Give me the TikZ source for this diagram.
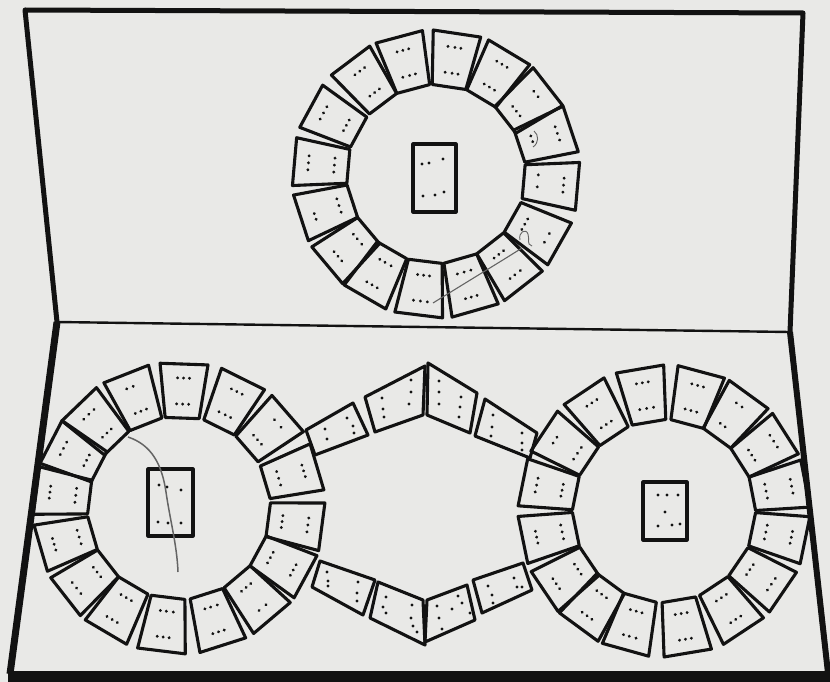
\documentclass[tikz,border=0pt]{standalone}
\definecolor{paper}{RGB}{233,233,231}
\definecolor{ink}{RGB}{18,18,18}
\definecolor{pencil}{RGB}{100,100,100}
\tikzset{
  cardline/.style={draw=ink, line width=3.1pt, line join=round},
  frameline/.style={draw=ink, line width=5pt, line cap=round, line join=round},
  foldline/.style={draw=ink, line width=2.4pt},
  pencilline/.style={draw=pencil, line width=1.5pt},
}
% ring card: ring centre (#1,#2), radius #3, angle #4 (screen, clockwise), inner-row pips #5, outer-row pips #6
\newcommand\rcard[6]{%
  \begin{scope}[shift={(#1,#2)},shift={(#4:#3)},rotate=-#4]
    \draw[cardline] (-27,-17) -- (27,-24) -- (27,24) -- (-27,17) -- cycle;
    \foreach \v in {#5} {\fill[ink] (-13,\v) circle (1.6pt);}
    \foreach \v in {#6} {\fill[ink] (13,\v) circle (1.6pt);}
  \end{scope}}
\newcommand\pips[1]{\foreach \p in {#1} {\fill[ink] (\p) circle (1.6pt);}}
\begin{document}
\begin{tikzpicture}[x=1pt,y=-1pt]
\useasboundingbox (0,0) rectangle (830,682);
\fill[paper] (0,0) rectangle (830,682);

% ---------- folder frame ----------
\coordinate (tl) at (25,10);
\coordinate (tr) at (803,13);
\coordinate (fl) at (57,322);
\coordinate (fr) at (790,332);
\coordinate (bl) at (10,674);
\coordinate (br) at (829,682);
\draw[frameline] (fl) -- (tl) -- (tr) -- (fr);
\draw[foldline] (fl) -- (fr);
\draw[draw=ink, line width=7pt] (fl) -- (bl);
\draw[draw=ink, line width=6pt] (fr) -- (br);
\fill[ink] (8,671) rectangle (830,682);

% ---------- top ring (centre 436,174) ----------
\rcard{436}{174}{115}{255}{-7,0,6}{-6,0,6}
\rcard{436}{174}{115}{278.5}{-6,1,7}{-7,0,6}
\rcard{436}{174}{115}{301}{-5,1,7}{-6,0,6}
\rcard{436}{174}{115}{322}{-6,0,6}{-5,2}
\rcard{436}{174}{115}{341.5}{-6,0}{-7,0,7}
\rcard{436}{174}{115}{365}{-8,4}{-7,0,7}
\rcard{436}{174}{115}{389.5}{-6,0,6}{-4,6}
\rcard{436}{174}{115}{412}{-6,0,6}{-7,0,6}
\rcard{436}{174}{115}{434}{-7,0,7}{-6,0,6}
\rcard{436}{174}{115}{457}{-6,0,6}{-7,0,7}
\rcard{436}{174}{115}{480}{-7,0,6}{-6,0,6}
\rcard{436}{174}{115}{500}{-6,1,7}{-6,0,6}
\rcard{436}{174}{115}{522}{-7,0,7}{-6,0}
\rcard{436}{174}{115}{545}{-7,0,7}{-7,0,7}
\rcard{436}{174}{115}{568.5}{-6,0,6}{-7,0,7}
\rcard{436}{174}{115}{593}{-6,0,6}{-5,1,7}
\draw[cardline] (413,144) rectangle (456,212);
\pips{{422,164},{429,163},{443,159},{423,196},{435,195},{444,192}}
\draw[pencilline, line width=1.1pt] (433,303) .. controls (470,280) and (500,262) .. (522,248);
\draw[pencilline, line width=0.9pt] (520,240) .. controls (518,232) and (526,228) .. (528,234) .. controls (530,240) and (526,244) .. (532,246);
\draw[pencilline, line width=0.9pt] (534,131) .. controls (539,135) and (539,143) .. (533,147);

% ---------- lower left ring (centre 179,508) ----------
\rcard{179}{508}{117}{248.5}{-6,0,6}{-5,2}
\rcard{179}{508}{117}{272}{-6,0,6}{-6,0,6}
\rcard{179}{508}{117}{296.4}{-7,0,6}{-6,0,6}
\rcard{179}{508}{117}{319}{-6,0,6}{-4,6}
\rcard{179}{508}{117}{343.4}{-7,0,7}{-6,0,6}
\rcard{179}{508}{117}{367.5}{-6,0,6}{-7,0,7}
\rcard{179}{508}{117}{388.5}{-6,0,6}{-6,0,6}
\rcard{179}{508}{117}{409.8}{-6,0,6}{-4,5}
\rcard{179}{508}{117}{432.3}{-7,0,6}{-6,0,6}
\rcard{179}{508}{117}{457}{-7,0,6}{-6,0,6}
\rcard{179}{508}{117}{480.5}{-6,0,6}{-5,1,7}
\rcard{179}{508}{117}{502}{-6,0,6}{-7,0,7}
\rcard{179}{508}{117}{523.8}{-7,0,7}{-6,0,6}
\rcard{179}{508}{117}{547}{-7,0,7}{-6,0,6}
\rcard{179}{508}{117}{567.3}{-6,0,6}{-7,0,7}
\rcard{179}{508}{117}{586.1}{-6,0,6}{-7,0,7}
\draw[cardline] (148,469) rectangle (193,536);
\pips{{159,485},{167,487},{181,490},{158,522},{168,523},{181,523}}
\draw[pencilline] (128,437) .. controls (152,445) and (162,465) .. (166,492) .. controls (170,520) and (177,545) .. (178,572);

% ---------- lower right ring (centre 664,511) ----------
\rcard{664}{511}{117}{260.4}{-7,0,7}{-6,0,6}
\rcard{664}{511}{117}{285}{-6,0,6}{-6,0,6}
\rcard{664}{511}{117}{306}{-6,0}{-5,2}
\rcard{664}{511}{117}{327.5}{-6,0,6}{-7,0,7}
\rcard{664}{511}{117}{349}{-7,0,7}{-7,0,7}
\rcard{664}{511}{117}{371.7}{-7,0,7}{-6,0,6}
\rcard{664}{511}{117}{394.3}{-6,0,6}{-7,0,7}
\rcard{664}{511}{117}{416.5}{-6,0,6}{-6,0,6}
\rcard{664}{511}{117}{440.5}{-6,0,6}{-6,0,6}
\rcard{664}{511}{117}{465.5}{-6,0,6}{-7,0,6}
\rcard{664}{511}{117}{486.3}{-5,1,7}{-6,0,6}
\rcard{664}{511}{117}{506}{-6,0,6}{-6,0,6}
\rcard{664}{511}{117}{528.4}{-7,0,7}{-6,0,6}
\rcard{664}{511}{117}{551.5}{-6,0,6}{-7,0,7}
\rcard{664}{511}{117}{573.7}{-7,0,7}{-5,2}
\rcard{664}{511}{117}{596.3}{-6,0,6}{-6,0,6}
\draw[cardline] (643,482) rectangle (687,540);
\pips{{658,495},{667,495},{678,495},{665,512},{658,526},{672,525},{680,524}}

% ---------- connecting chain, upper ----------
\draw[cardline] (306,430) -- (353,403) -- (368,435) -- (315,455) -- cycle;
\pips{{325,429},{327,439},{347,418},{353,426},{354,433}}
\draw[cardline] (365,397) -- (425,366) -- (423,415) -- (375,432) -- cycle;
\pips{{382,398},{383,409},{384,417},{411,380},{411,392},{409,404}}
\draw[cardline] (428,363) -- (477,393) -- (470,433) -- (427,415) -- cycle;
\pips{{439,381},{439,392},{439,404},{461,397},{460,407},{459,417}}
\draw[cardline] (485,399) -- (537,433) -- (530,458) -- (475,436) -- cycle;
\pips{{493,415},{492,427},{491,436},{522,433},{522,443},{522,450}}

% ---------- connecting chain, lower ----------
\draw[cardline] (320,561) -- (375,580) -- (363,615) -- (312,587) -- cycle;
\pips{{327,572},{328,581},{328,586},{358,582},{357,593},{357,601}}
\draw[cardline] (378,582) -- (423,600) -- (425,645) -- (370,618) -- cycle;
\pips{{386,597},{383,607},{386,613},{412,605},{411,618},{413,626},{417,632}}
\draw[cardline] (427,600) -- (467,585) -- (475,620) -- (425,642) -- cycle;
\pips{{437,606},{439,618},{442,629},{458,596},{462,603},{452,609},{470,613}}
\draw[cardline] (473,580) -- (523,563) -- (532,590) -- (482,613) -- cycle;
\pips{{488,586},{492,595},{493,603},{514,578},{517,587},{522,587}}
\end{tikzpicture}
\end{document}
